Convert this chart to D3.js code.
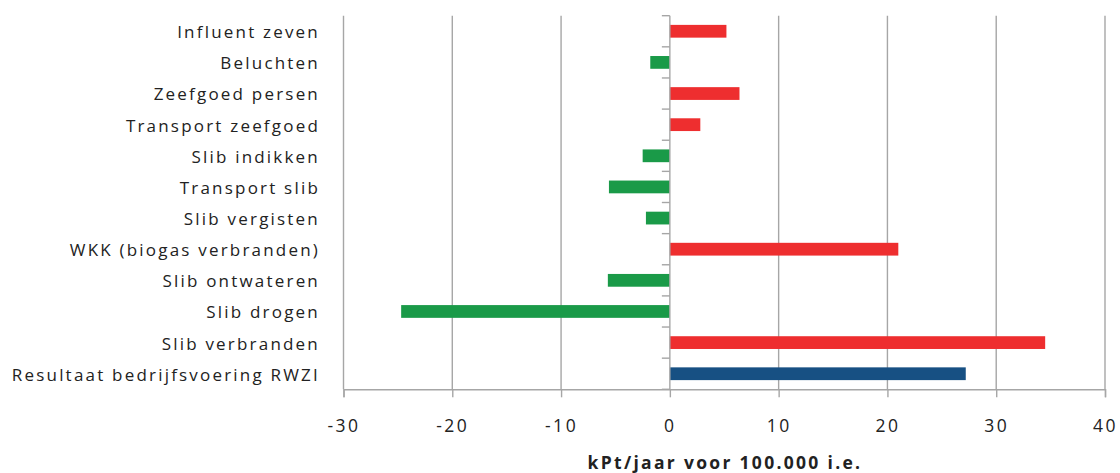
<!DOCTYPE html>
<html>
<head>
<meta charset="utf-8">
<script src="https://cdn.jsdelivr.net/npm/d3@7"></script>
<style>
  html, body { margin: 0; padding: 0; background: #fff; }
  svg text { font-family: "Open Sans", "Liberation Sans", sans-serif; fill: #222; }
</style>
</head>
<body>
<svg id="chart" width="1120" height="473"></svg>
<script>
// Process steps (top to bottom) and their environmental impact in kPt/year per 100,000 p.e.
const categories = [
  "Influent zeven",
  "Beluchten",
  "Zeefgoed persen",
  "Transport zeefgoed",
  "Slib indikken",
  "Transport slib",
  "Slib vergisten",
  "WKK (biogas verbranden)",
  "Slib ontwateren",
  "Slib drogen",
  "Slib verbranden",
  "Resultaat bedrijfsvoering RWZI"
];
const values = [5.2, -1.8, 6.4, 2.8, -2.5, -5.6, -2.2, 21.0, -5.7, -24.7, 34.5, 27.2];
const xTicks = [-30, -20, -10, 0, 10, 20, 30, 40];
const xTitle = "kPt/jaar voor 100.000 i.e.";

const colorPos = "#ee2e2f";
const colorNeg = "#1a9a48";
const colorTotal = "#175083";

const margin = { top: 15.7, left: 343.5, right: 15, bottom: 83.7 };
const width = 1120, height = 473;

const svg = d3.select("#chart");

const x = d3.scaleLinear().domain([-30, 40]).range([margin.left, 1105]);
const y = d3.scaleBand().domain(categories).range([margin.top, height - margin.bottom])
  .paddingInner(0.59).paddingOuter(0.295);

const grid = "#a6a6a6";

// vertical gridlines
svg.append("g").selectAll("line").data(xTicks.filter(d => d !== 0)).join("line")
  .attr("x1", d => x(d)).attr("x2", d => x(d))
  .attr("y1", margin.top).attr("y2", height - margin.bottom)
  .attr("stroke", grid).attr("stroke-width", 1.4);

// bars
svg.append("g").selectAll("rect").data(categories).join("rect")
  .attr("x", (d, i) => x(Math.min(0, values[i])))
  .attr("width", (d, i) => Math.abs(x(values[i]) - x(0)))
  .attr("y", d => y(d))
  .attr("height", y.bandwidth())
  .attr("fill", (d, i) => i === categories.length - 1 ? colorTotal : (values[i] >= 0 ? colorPos : colorNeg));

// bottom axis
const xAxis = d3.axisBottom(x).tickValues(xTicks).tickSize(8).tickPadding(22).tickFormat(d => d);
const gx = svg.append("g").attr("transform", `translate(0,${height - margin.bottom})`).call(xAxis);
gx.select(".domain").attr("stroke", grid).attr("stroke-width", 1.4);
gx.selectAll(".tick line").attr("stroke", grid).attr("stroke-width", 1.4);
gx.selectAll(".tick text").attr("font-size", 17.5).attr("fill", "#222")
  .style("font-family", "'Open Sans', sans-serif").style("letter-spacing", "2.5px");

// zero axis with category separator ticks
const y0 = x(0);
const bounds = d3.range(categories.length + 1).map(i => margin.top + i * y.step());
svg.append("line").attr("x1", y0).attr("x2", y0)
  .attr("y1", margin.top).attr("y2", height - margin.bottom)
  .attr("stroke", grid).attr("stroke-width", 1.4);
svg.append("g").selectAll("line").data(bounds).join("line")
  .attr("x1", y0 - 8).attr("x2", y0)
  .attr("y1", d => d).attr("y2", d => d)
  .attr("stroke", grid).attr("stroke-width", 1.4);

// category labels
svg.append("g").selectAll("text").data(categories).join("text")
  .attr("x", 320)
  .attr("y", d => y(d) + y.bandwidth() / 2 + 1)
  .attr("dy", "0.35em")
  .attr("text-anchor", "end")
  .attr("font-size", 17)
  .style("letter-spacing", "2.2px")
  .text(d => d);

// axis title
svg.append("text")
  .attr("x", 725).attr("y", 469)
  .attr("text-anchor", "middle")
  .attr("font-size", 17.5)
  .attr("font-weight", "bold")
  .style("letter-spacing", "2.3px")
  .text(xTitle);
</script>
</body>
</html>
